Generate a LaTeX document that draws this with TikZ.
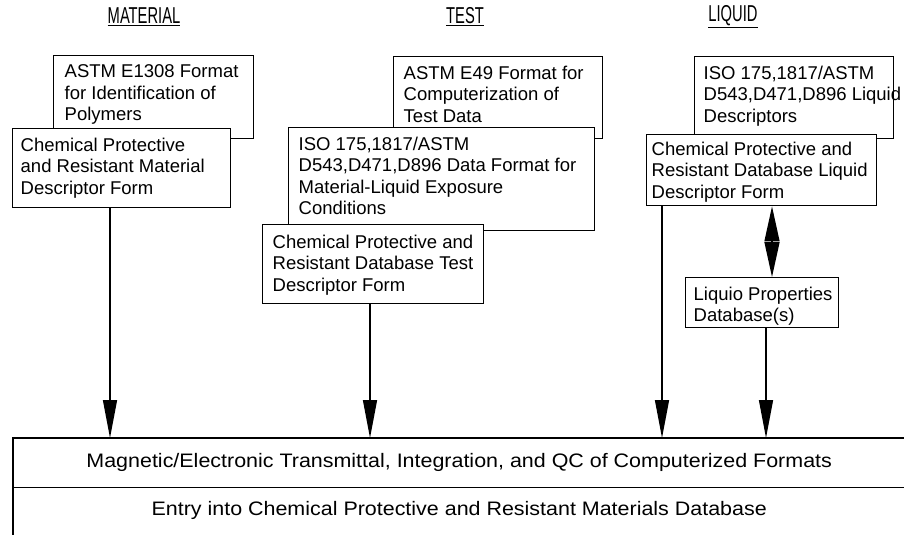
\documentclass[tikz,border=0pt]{standalone}
\usepackage{fontspec}
\setmainfont{Liberation Sans}
\newfontfamily\wideface[FakeStretch=1.1]{Liberation Sans}
\newfontfamily\narrowface[FakeStretch=0.64]{Liberation Sans}
\usetikzlibrary{arrows.meta}
\begin{document}
\begin{tikzpicture}[x=1pt,y=-1pt,line width=1.4pt,
  box/.style={draw,line width=1.4pt,fill=white,inner sep=0pt,anchor=north west},
  txt/.style={anchor=north west,inner sep=0pt,align=left,font=\fontsize{18.5}{21.5}\selectfont},
  head/.style={inner sep=0pt,font=\narrowface\fontsize{23}{28}\selectfont},
  band/.style={inner sep=0pt,anchor=north west,minimum width=891pt,minimum height=48pt,font=\wideface\fontsize{19.5}{22}\selectfont},
  arr/.style={-{Triangle[length=38pt,width=14pt]},line width=1.4pt},
  kite/.style={{Triangle[length=35pt,width=15pt]}-{Triangle[length=35pt,width=15pt]},line width=1.4pt}]
\useasboundingbox (0,0) rectangle (904,538);

% headers
\node[head] (hmat) at (144,17) {\underline{MATERIAL}};
\node[head] (htest) at (465,17) {\underline{TEST}};
\node[head] (hliq) at (733,17) {\underline{LIQUID}};

% material column
\node[box,minimum width=200pt,minimum height=83pt] (e1308) at (53,55) {};
\node[txt] (e1308t) at (64,64) {ASTM E1308 Format\\for Identification of\\Polymers};
\node[box,minimum width=218pt,minimum height=79pt] (matform) at (12,128) {};
\node[txt] (matformt) at (20,137) {Chemical Protective\\and Resistant Material\\Descriptor Form};

% test column
\node[box,minimum width=209pt,minimum height=82pt] (e49) at (393,56) {};
\node[txt] (e49t) at (403,65) {ASTM E49 Format for\\Computerization of\\Test Data};
\node[box,minimum width=306pt,minimum height=103pt] (isodata) at (288,127) {};
\node[txt] (isodatat) at (298,136) {ISO 175,1817/ASTM\\D543,D471,D896 Data Format for\\Material-Liquid Exposure\\Conditions};
\node[box,minimum width=221pt,minimum height=79pt] (testform) at (262,224) {};
\node[txt] (testformt) at (272,234) {Chemical Protective and\\Resistant Database Test\\Descriptor Form};

% liquid column
\node[box,minimum width=199pt,minimum height=82pt] (isoliq) at (694,56) {};
\node[txt] (isoliqt) at (703,65) {ISO 175,1817/ASTM\\D543,D471,D896 Liquid\\Descriptors};
\node[box,minimum width=230pt,minimum height=71pt] (liqform) at (646,134) {};
\node[txt] (liqformt) at (651,141) {Chemical Protective and\\Resistant Database Liquid\\Descriptor Form};
\node[box,minimum width=153pt,minimum height=50pt] (props) at (685,277) {};
\node[txt] (propst) at (693,286) {Liquio Properties\\Database(s)};

% bottom bands
\node[band] (mag) at (13,438) {Magnetic/Electronic Transmittal, Integration, and QC of Computerized Formats};
\node[band] (entry) at (13,486) {Entry into Chemical Protective and Resistant Materials Database};
\draw (mag.north east) -- (mag.north west) -- (entry.south west);
\draw (mag.south west) -- (mag.south east);

% connectors
\coordinate (xm) at (110,0);
\coordinate (xt) at (370,0);
\coordinate (xl) at (662,0);
\coordinate (xp) at (766,0);
\coordinate (xd) at (772,0);
\draw[arr] (matform.south -| xm) -- (mag.north -| xm);
\draw[arr] (testform.south -| xt) -- (mag.north -| xt);
\draw[arr] (liqform.south -| xl) -- (mag.north -| xl);
\draw[arr] (props.south -| xp) -- (mag.north -| xp);
\draw[kite] (liqform.south -| xd) -- (props.north -| xd);
\end{tikzpicture}
\end{document}
